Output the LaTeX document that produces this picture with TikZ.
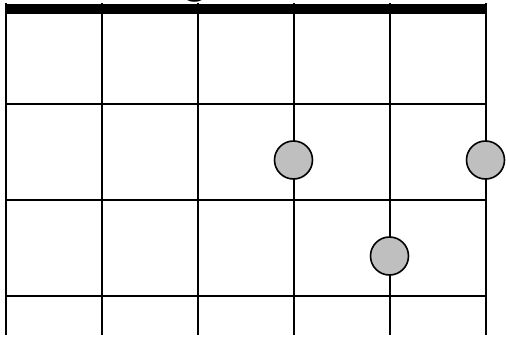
\documentclass[tikz,border=0pt]{standalone}
\usepackage{fontspec}
\setmainfont{Liberation Sans}
\begin{document}
\begin{tikzpicture}[x=1pt,y=-1pt,
  stringline/.style={line width=2pt,black},
  fretline/.style={line width=2pt,black},
  dot/.style={circle,draw=black,line width=1.6pt,fill=black!25,minimum size=38pt,inner sep=0pt}]
\useasboundingbox (0,0) rectangle (506,338);
\node[anchor=base,font=\bfseries\fontsize{46}{46}\selectfont,inner sep=0pt] (title) at (196,-8) {g};
\foreach \i/\x in {1/5.5,2/101.5,3/197.5,4/293.5,5/389.5,6/485.5}{
  \coordinate (t\i) at (\x,3);
  \coordinate (b\i) at (\x,335);
  \draw[stringline] (t\i) -- (b\i);
}
\fill[black] (4.5,3.5) rectangle (486.5,13.5);
\foreach \j/\y in {1/104,2/200,3/296}{
  \coordinate (l\j) at (5,\y);
  \coordinate (r\j) at (486,\y);
  \draw[fretline] (l\j) -- (r\j);
}
\node[dot] (d1) at (293.5,160) {};
\node[dot] (d2) at (485.5,160) {};
\node[dot] (d3) at (389.5,256) {};
\end{tikzpicture}
\end{document}
